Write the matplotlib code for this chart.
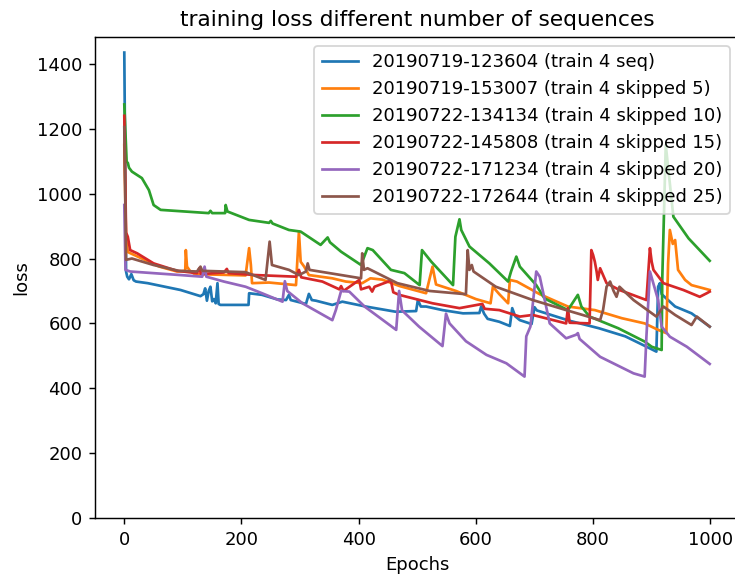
import matplotlib
matplotlib.use("Agg")
import matplotlib.pyplot as plt

# loss curves of the six runs (epoch, loss) sampled at the turning points
ep_seq = [0, 3, 5, 8, 12, 16, 20, 40, 96, 130, 135, 138, 141, 144, 147, 150, 153, 156, 159, 161, 164, 212, 213, 235,
          261, 276, 281, 284, 310, 315, 320, 327, 355, 372, 412, 463, 498, 501, 506, 515, 543, 578, 606, 609, 614, 620,
          640, 658, 662, 667, 675, 695, 700, 704, 760, 810, 855, 889, 908, 911, 914, 917, 940, 968, 999]
loss_seq = [1435, 760, 744, 736, 752, 733, 729, 724, 703, 684, 690, 708, 670, 700, 713, 668, 675, 662, 724, 660, 657,
            657, 693, 688, 674, 672, 688, 672, 660, 691, 672, 670, 657, 667, 652, 636, 638, 672, 652, 652, 641, 631,
            632, 652, 630, 614, 605, 592, 647, 622, 610, 598, 650, 640, 608, 585, 560, 530, 513, 713, 724, 690, 652,
            631, 590]

ep_skip5 = [0, 3, 6, 30, 60, 90, 104, 105, 107, 112, 120, 207, 213, 216, 218, 247, 293, 298, 301, 307, 315, 355, 378,
            406, 420, 440, 470, 515, 526, 532, 566, 600, 625, 629, 640, 655, 658, 670, 709, 757, 803, 849, 888, 911,
            925, 928, 931, 936, 940, 945, 957, 968, 999]
loss_skip5 = [1150, 860, 820, 800, 775, 760, 762, 826, 775, 762, 752, 748, 832, 780, 724, 726, 718, 883, 790, 775,
              749, 739, 729, 724, 739, 735, 715, 693, 775, 720, 700, 675, 662, 713, 690, 662, 734, 729, 690, 652, 641,
              616, 600, 580, 570, 785, 888, 845, 857, 765, 734, 718, 703]

ep_skip10 = [0, 4, 6, 8, 13, 30, 42, 50, 62, 144, 147, 150, 172, 173, 176, 213, 247, 250, 253, 281, 301, 335, 347,
             351, 370, 404, 415, 424, 455, 478, 504, 508, 524, 561, 565, 572, 575, 589, 623, 655, 660, 669, 675, 703,
             717, 757, 774, 780, 794, 843, 888, 900, 917, 918, 921, 924, 937, 963, 999]
loss_skip10 = [1275, 1098, 1095, 1080, 1068, 1048, 1011, 965, 950, 940, 947, 940, 940, 965, 945, 919, 910, 916, 908,
               888, 883, 842, 865, 850, 821, 780, 832, 826, 765, 755, 718, 826, 790, 718, 867, 921, 888, 837, 785, 729,
               760, 806, 775, 718, 677, 641, 688, 652, 621, 585, 544, 528, 518, 734, 940, 1150, 929, 862, 793]

ep_skip15 = [0, 3, 6, 10, 22, 50, 90, 124, 128, 131, 170, 175, 178, 224, 293, 298, 302, 338, 367, 370, 374, 401, 404,
             418, 423, 427, 455, 459, 469, 526, 572, 611, 615, 640, 675, 697, 754, 757, 760, 794, 797, 800, 803, 806,
             808, 812, 823, 845, 891, 897, 900, 903, 920, 954, 982, 994, 999]
loss_skip15 = [1240, 880, 867, 826, 816, 785, 762, 755, 770, 752, 757, 768, 755, 749, 744, 765, 742, 729, 705, 715,
               700, 734, 705, 713, 698, 713, 732, 696, 688, 662, 647, 660, 645, 641, 621, 626, 600, 647, 602, 600, 826,
               811, 790, 760, 734, 770, 724, 703, 672, 832, 790, 765, 724, 703, 682, 693, 698]

ep_skip20 = [0, 2, 10, 96, 133, 137, 140, 170, 207, 235, 270, 274, 278, 304, 355, 361, 370, 384, 410, 464, 469, 474,
             503, 543, 549, 555, 583, 618, 652, 683, 686, 693, 703, 709, 726, 754, 771, 774, 777, 812, 869, 888, 891,
             897, 911, 917, 931, 960, 999]
loss_skip20 = [965, 765, 760, 749, 744, 775, 744, 729, 713, 693, 667, 730, 700, 662, 610, 641, 700, 698, 652, 580,
               700, 640, 590, 530, 630, 600, 545, 503, 477, 436, 560, 590, 760, 744, 600, 554, 565, 570, 552, 497, 446,
               436, 559, 760, 672, 590, 559, 528, 475]

ep_skip25 = [0, 3, 13, 50, 93, 124, 130, 133, 207, 241, 248, 252, 281, 298, 310, 313, 316, 350, 404, 406, 409, 415,
             466, 521, 583, 586, 589, 593, 596, 634, 697, 754, 812, 817, 823, 829, 835, 840, 845, 869, 908, 920, 940,
             968, 977, 999]
loss_skip25 = [1205, 796, 800, 780, 762, 760, 775, 762, 758, 734, 852, 780, 765, 749, 760, 785, 765, 755, 739, 816,
               765, 770, 724, 700, 690, 826, 765, 780, 760, 713, 672, 641, 610, 641, 713, 729, 700, 682, 713, 672, 621,
               652, 626, 595, 621, 590]

labels = ["20190719-123604 (train 4 seq)",
          "20190719-153007 (train 4 skipped 5)",
          "20190722-134134 (train 4 skipped 10)",
          "20190722-145808 (train 4 skipped 15)",
          "20190722-171234 (train 4 skipped 20)",
          "20190722-172644 (train 4 skipped 25)"]

runs = [(ep_seq, loss_seq), (ep_skip5, loss_skip5), (ep_skip10, loss_skip10),
        (ep_skip15, loss_skip15), (ep_skip20, loss_skip20), (ep_skip25, loss_skip25)]

fig = plt.figure(figsize=(735 / 130, 578 / 130), dpi=130)
ax = fig.add_axes([95 / 735, 60 / 578, 644 / 735, 481 / 578])

for (ep, loss), lab in zip(runs, labels):
    ax.plot(ep, loss, label=lab)

ax.set_xlim(-50, 1049)
ax.set_ylim(0, 1483)
ax.set_xticks([0, 200, 400, 600, 800, 1000])
ax.set_yticks(range(0, 1401, 200))
ax.set_title("training loss different number of sequences")
ax.set_xlabel("Epochs")
ax.set_ylabel("loss")
ax.legend(loc="upper right")

fig.savefig("out.png", dpi=130)
